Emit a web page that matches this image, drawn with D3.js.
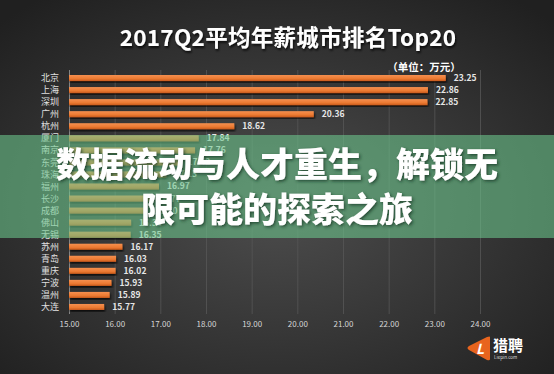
<!DOCTYPE html>
<html>
<head>
<meta charset="utf-8">
<script src="https://cdn.jsdelivr.net/npm/d3@7"></script>
<style>
  html, body { margin: 0; padding: 0; background: #2b2b2b; }
  svg { display: block; }
  text { font-family: "Noto Sans CJK SC", "Open Sans", sans-serif; }
</style>
</head>
<body>
<div id="chart"></div>
<script>
const cities = ["北京", "上海", "深圳", "广州", "杭州", "厦门", "南京", "东莞", "珠海", "福州",
    "长沙", "成都", "佛山", "无锡", "苏州", "青岛", "重庆", "宁波", "温州", "大连"];
const salaries = [23.25, 22.86, 22.85, 20.36, 18.62, 17.84, 17.76, 17.42, 17.13, 16.97,
    16.77, 16.70, 16.36, 16.35, 16.17, 16.03, 16.02, 15.93, 15.89, 15.77];
const xTicks = [15, 16, 17, 18, 19, 20, 21, 22, 23, 24];
const title = "2017Q2平均年薪城市排名Top20";
const unitLabel = "（单位：万元）";
const bannerLines = ["数据流动与人才重生，解锁无", "限可能的探索之旅"];

const width = 554, height = 374;
const svg = d3.select("#chart").append("svg")
    .attr("width", width).attr("height", height);

const defs = svg.append("defs");
const bg = defs.append("radialGradient").attr("id", "bg")
    .attr("cx", "50%").attr("cy", "55%").attr("r", "70%");
bg.append("stop").attr("offset", "0%").attr("stop-color", "#4d4d4d");
bg.append("stop").attr("offset", "100%").attr("stop-color", "#202020");

const barGrad = defs.append("linearGradient").attr("id", "bar")
    .attr("x1", 0).attr("y1", 0).attr("x2", 0).attr("y2", 1);
barGrad.append("stop").attr("offset", "0%").attr("stop-color", "#f59050");
barGrad.append("stop").attr("offset", "60%").attr("stop-color", "#ec7a32");
barGrad.append("stop").attr("offset", "100%").attr("stop-color", "#c85a1c");

const shadow = defs.append("filter").attr("id", "shadow")
    .attr("x", "-10%").attr("y", "-30%").attr("width", "120%").attr("height", "160%");
shadow.append("feDropShadow").attr("dx", 1).attr("dy", 2).attr("stdDeviation", 1.2)
    .attr("flood-color", "#000").attr("flood-opacity", 0.75);

svg.append("rect").attr("width", width).attr("height", height).attr("fill", "url(#bg)");

// title + unit
svg.append("text").attr("x", 288).attr("y", 46).attr("text-anchor", "middle")
    .attr("fill", "#fff").attr("font-size", 22.5).attr("font-weight", "bold")
    .attr("letter-spacing", 0.3)
    .attr("filter", "url(#shadow)").text(title);
svg.append("text").attr("x", 424).attr("y", 71).attr("text-anchor", "middle")
    .attr("fill", "#fff").attr("font-size", 10.5).attr("font-weight", "bold")
    .text(unitLabel);

const x = d3.scaleLinear().domain([15, 24]).range([69, 480]);
const y = d3.scaleBand().domain(cities).range([72, 313]).paddingInner(0.5).paddingOuter(0.25);

// grid
svg.append("g").attr("transform", "translate(0,314)")
    .call(d3.axisBottom(x).tickValues(xTicks).tickSize(-244).tickFormat(""))
    .call(g => g.select(".domain").remove())
    .call(g => g.selectAll("line").attr("stroke-width", 0.8)
        .attr("stroke", d => d === 15 ? "#9a9a9a" : "#575757"));

// x tick labels
svg.append("g").attr("transform", "translate(0,318)")
    .call(d3.axisBottom(x).tickValues(xTicks).tickSize(0).tickFormat(d3.format(".2f")))
    .call(g => g.select(".domain").remove())
    .call(g => g.selectAll("text").attr("fill", "#d6d6d6").attr("font-size", 8)
        .attr("font-family", "'Open Sans', sans-serif"));

// city labels
svg.append("g").selectAll("text").data(cities).join("text")
    .attr("x", 59).attr("y", d => y(d) + y.bandwidth() / 2)
    .attr("dy", "0.35em").attr("text-anchor", "end")
    .attr("fill", "#e0e0e0").attr("font-size", 9).text(d => d);

// bars
const rows = cities.map((c, i) => ({ city: c, value: salaries[i] }));
svg.append("g").selectAll("rect").data(rows).join("rect")
    .attr("x", x(15)).attr("y", d => y(d.city))
    .attr("width", d => x(d.value) - x(15)).attr("height", y.bandwidth())
    .attr("fill", "url(#bar)").attr("filter", "url(#shadow)");

// value labels
svg.append("g").selectAll("text").data(rows).join("text")
    .attr("x", d => x(d.value) + 8).attr("y", d => y(d.city) + y.bandwidth() / 2)
    .attr("dy", "0.35em").attr("fill", "#e6e6e6").attr("font-size", 8.5)
    .attr("font-family", "'Open Sans', sans-serif").attr("font-weight", 600)
    .text(d => d.value.toFixed(2));

// green banner overlay
svg.append("rect").attr("x", 0).attr("y", 135).attr("width", width).attr("height", 103)
    .attr("fill", "rgb(108,200,142)").attr("opacity", 0.58);

const bannerShadow = defs.append("filter").attr("id", "bshadow")
    .attr("x", "-5%").attr("y", "-20%").attr("width", "110%").attr("height", "140%");
bannerShadow.append("feDropShadow").attr("dx", 1.5).attr("dy", 1.5).attr("stdDeviation", 1.5)
    .attr("flood-color", "#1a3a28").attr("flood-opacity", 0.8);

svg.append("g").selectAll("text").data(bannerLines).join("text")
    .attr("x", 277).attr("y", (d, i) => 177 + i * 45)
    .attr("text-anchor", "middle").attr("fill", "#fff")
    .attr("font-size", 34).attr("font-weight", 900)
    .attr("filter", "url(#bshadow)").text(d => d);

// logo
const logo = svg.append("g").attr("transform", "translate(467,337)");
logo.append("path")
    .attr("d", "M23,0 L23,22 Q23,24 20,23 L2,13 Q-1,11 2,9 L20,0 Q23,-1 23,0 Z")
    .attr("fill", "#e8641e");
logo.append("text").attr("x", 13).attr("y", 17).attr("text-anchor", "middle")
    .attr("fill", "#fff").attr("font-size", 14).attr("font-weight", "bold")
    .attr("font-style", "italic").attr("font-family", "Roboto, sans-serif").text("L");
logo.append("text").attr("x", 26).attr("y", 14).attr("fill", "#fff")
    .attr("font-size", 15).attr("font-weight", "bold").text("猎聘");
logo.append("text").attr("x", 27).attr("y", 22).attr("fill", "#ddd")
    .attr("font-size", 4.5).attr("font-family", "Roboto, sans-serif").text("Liepin.com");
</script>
</body>
</html>
